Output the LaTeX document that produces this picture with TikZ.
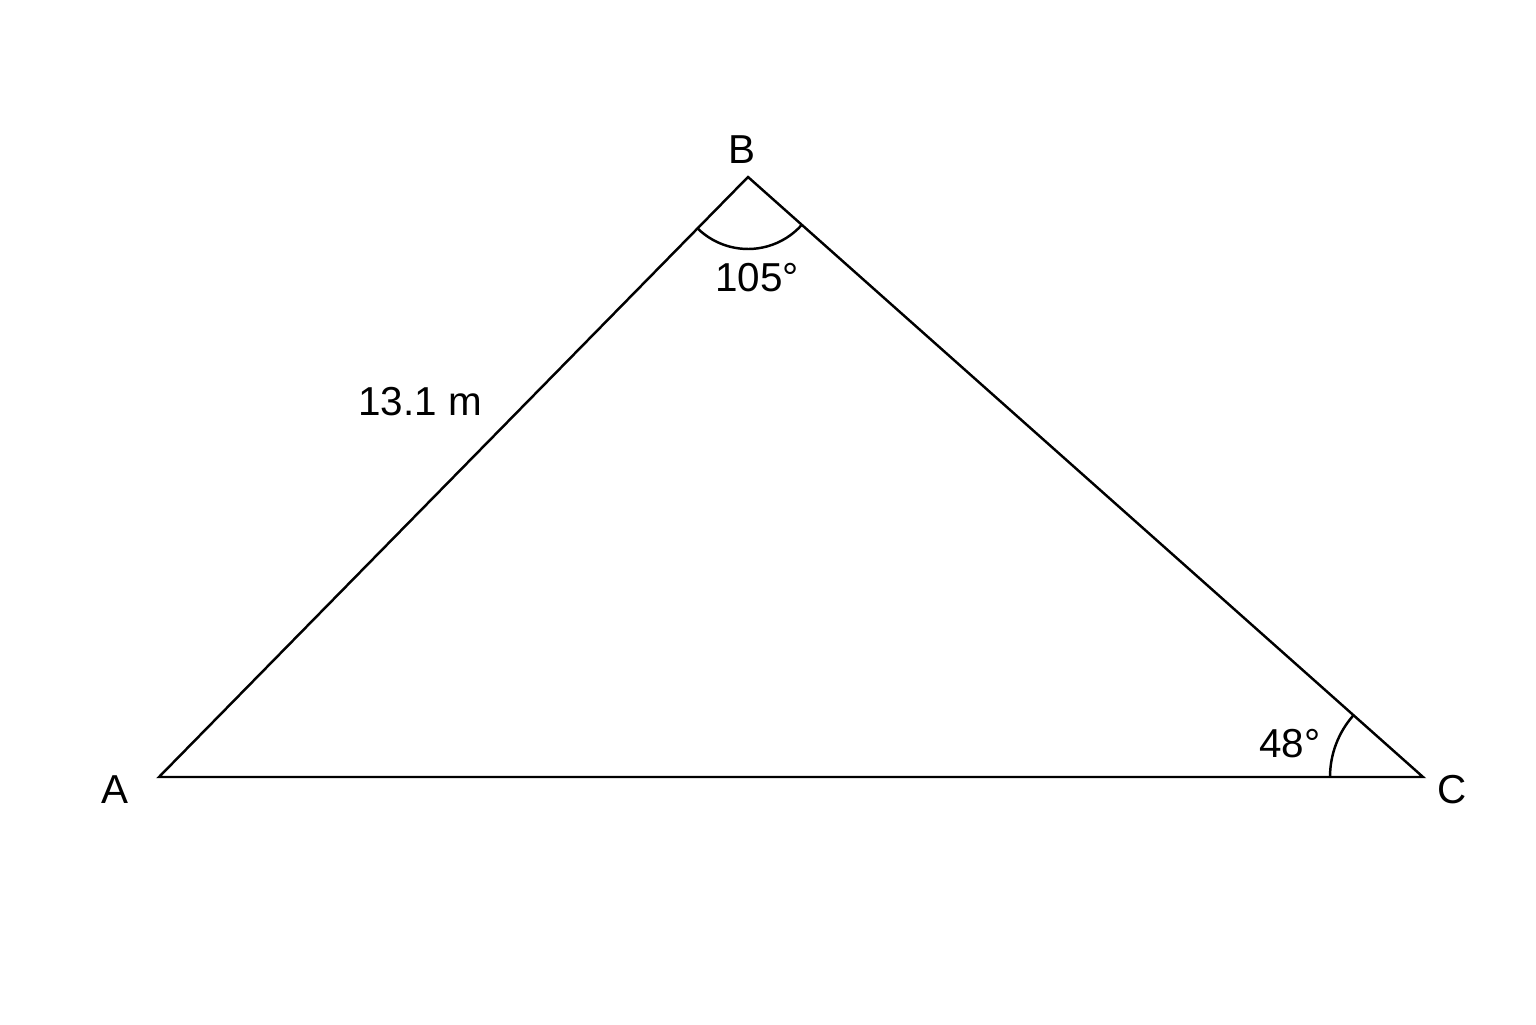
\documentclass[tikz,border=0pt]{standalone}
\usepackage{fontspec}
\setmainfont{Liberation Sans}
\usepackage{tikz}
\usetikzlibrary{positioning}

\begin{document}
\begin{tikzpicture}[line width=0.7pt, vlabel/.style={font=\fontsize{11.5}{13}\selectfont, inner sep=1pt}]
  \useasboundingbox (0,0) rectangle (15.36,10.24);
  \coordinate (A) at (1.59,2.47);
  \coordinate (B) at (7.48,8.47);
  \coordinate (C) at (14.23,2.47);

  \node [vlabel] (a) at (1.15,2.34) {A};
  \node [vlabel] (b) at (7.42,8.74) {B};
  \node [vlabel] (c) at (14.52,2.34) {C};
  \node [vlabel] (side) at (4.20,6.22) {13.1 m};
  \node [vlabel] (angB) at (7.57,7.46) {105°};
  \node [vlabel] (angC) at (12.90,2.80) {48°};

  \draw (A) -- (B) -- (C) -- cycle;

  \draw ([shift={(225.5:0.72)}]B) arc (225.5:318.4:0.72);
  \draw ([shift={(180:0.93)}]C) arc (180:138.4:0.93);

\end{tikzpicture}
\end{document}
